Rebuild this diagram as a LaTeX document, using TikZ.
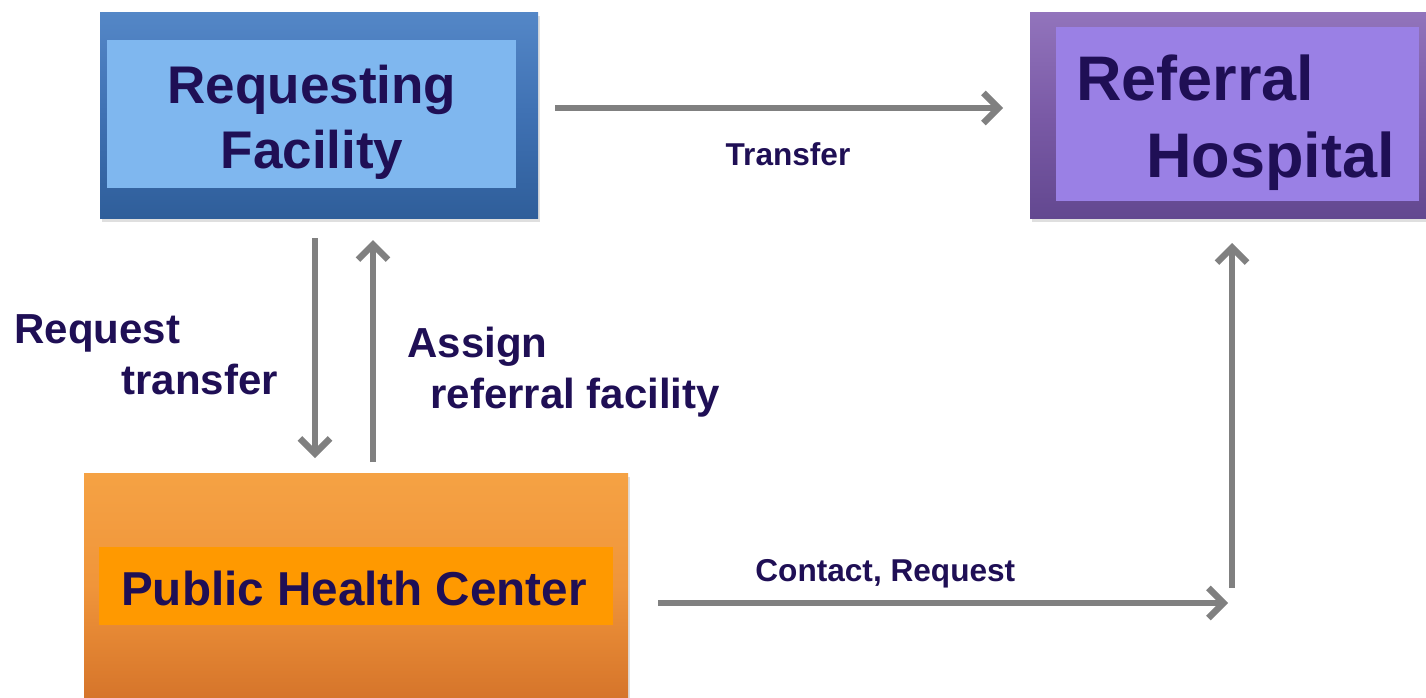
\documentclass[tikz,border=0pt]{standalone}
\usepackage{fontspec}
\setmainfont{Liberation Sans}
\usetikzlibrary{arrows.meta,fit,shadows}

\definecolor{ink}{HTML}{1F0F55}
\definecolor{arrowgray}{HTML}{808080}
\definecolor{blueTop}{HTML}{5487C7}
\definecolor{blueMid}{HTML}{3F71B3}
\definecolor{blueBot}{HTML}{2F5E9A}
\definecolor{blueIn}{HTML}{7FB7EF}
\definecolor{violetTop}{HTML}{9274BC}
\definecolor{violetMid}{HTML}{7A5AA6}
\definecolor{violetBot}{HTML}{634890}
\definecolor{violetIn}{HTML}{9A80E5}
\definecolor{orangeTop}{HTML}{F5A244}
\definecolor{orangeMid}{HTML}{F0953A}
\definecolor{orangeBot}{HTML}{D6752B}
\definecolor{orangeIn}{HTML}{FF9900}

\tikzset{
  outerbox/.style={fit={#1}, inner sep=0pt, draw=none,
    drop shadow={shadow xshift=1pt, shadow yshift=-2pt, opacity=0.25}},
  innerbox/.style={fit={#1}, inner sep=0pt, draw=none},
  bigtext/.style={text=ink, font=\fontsize{26.5}{30}\selectfont\bfseries, inner sep=0pt},
  hosptext/.style={text=ink, font=\fontsize{31.5}{36}\selectfont\bfseries, inner sep=0pt},
  phctext/.style={text=ink, font=\fontsize{23.8}{28}\selectfont\bfseries, inner sep=0pt},
  sidetext/.style={text=ink, font=\fontsize{21}{25}\selectfont\bfseries, inner sep=0pt},
  smalltext/.style={text=ink, font=\fontsize{15.8}{19}\selectfont\bfseries, inner sep=0pt},
  flow/.style={draw=arrowgray, line width=2.6pt,
    -{Straight Barb[length=7.5pt, width=15pt, line width=3.2pt]}},
}

\begin{document}
\begin{tikzpicture}[x=0.5pt, y=-0.5pt]
\useasboundingbox (0,0) rectangle (1426,697);

% Requesting Facility
\node[outerbox={(100,12) (538,218)}, top color=blueTop, bottom color=blueBot,
      middle color=blueMid] (rf) {};
\node[innerbox={(107,40) (516,188)}, fill=blueIn] (rfin) {};
\node[bigtext, anchor=base] (rf1) at (312,103) {Requesting};
\node[bigtext, anchor=base] (rf2) at (312,168) {Facility};

% Referral Hospital
\node[outerbox={(1030,12) (1426,218)}, top color=violetTop, bottom color=violetBot,
      middle color=violetMid] (rh) {};
\node[innerbox={(1056,27) (1419,201)}, fill=violetIn] (rhin) {};
\node[hosptext, anchor=base west] (rh1) at (1076,100) {Referral};
\node[hosptext, anchor=base west] (rh2) at (1146,177) {Hospital};

% Public Health Center
\node[outerbox={(84,473) (628,697)}, top color=orangeTop, bottom color=orangeBot,
      middle color=orangeMid] (phc) {};
\node[innerbox={(99,547) (613,625)}, fill=orangeIn] (phcin) {};
\node[phctext, anchor=base] (phc1) at (354,605) {Public Health Center};

% connector end points
\coordinate (tA) at (555,108);
\coordinate (tB) at (1003,108);
\coordinate (dA) at (315,238);
\coordinate (dB) at (315,458);
\coordinate (uA) at (373,462);
\coordinate (uB) at (373,240);
\coordinate (cA) at (658,603);
\coordinate (cB) at (1228,603);
\coordinate (vA) at (1232,588);
\coordinate (vB) at (1232,243);

\draw[flow] (tA) -- (tB);
\draw[flow] (dA) -- (dB);
\draw[flow] (uA) -- (uB);
\draw[flow] (cA) -- (cB);
\draw[flow] (vA) -- (vB);

% connector labels
\node[smalltext, anchor=base] (lt) at (788,165) {Transfer};
\node[smalltext, anchor=base west] (lc) at (755,581) {Contact, Request};
\node[sidetext, anchor=base west] (lr1) at (14,343) {Request};
\node[sidetext, anchor=base west] (lr2) at (121,394) {transfer};
\node[sidetext, anchor=base west] (la1) at (407,357) {Assign};
\node[sidetext, anchor=base west] (la2) at (430,408) {referral facility};
\end{tikzpicture}
\end{document}
